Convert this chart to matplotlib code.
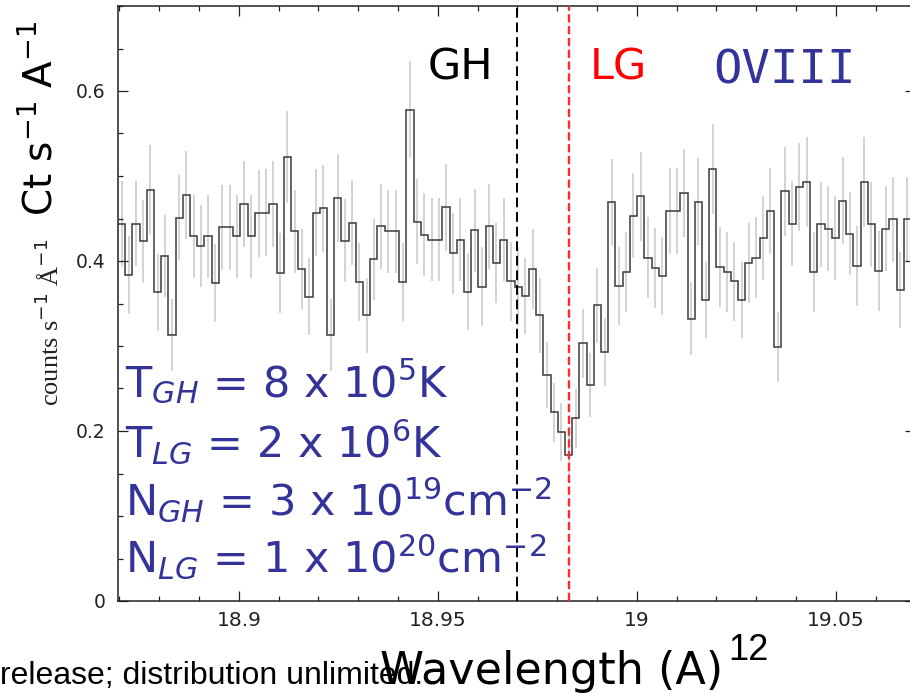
import numpy as np
import matplotlib
matplotlib.use('Agg')
import matplotlib.pyplot as plt
from matplotlib.ticker import MultipleLocator

# ---------------- data ----------------
wave_start = 18.8696      # left edge of first bin (Angstrom)
bin_width = 0.001812      # bin width (Angstrom)

counts = [
    0.444, 0.384, 0.444, 0.423, 0.484, 0.363, 0.406, 0.313, 0.451, 0.478,
    0.429, 0.418, 0.429, 0.374, 0.440, 0.440, 0.429, 0.467, 0.429, 0.456,
    0.457, 0.467, 0.386, 0.522, 0.435, 0.391, 0.358, 0.457, 0.462, 0.313,
    0.474, 0.424, 0.445, 0.375, 0.336, 0.402, 0.441, 0.435, 0.435, 0.375,
    0.578, 0.446, 0.431, 0.425, 0.425, 0.463, 0.409, 0.425, 0.364, 0.436,
    0.370, 0.441, 0.398, 0.425, 0.376, 0.370, 0.359, 0.391, 0.336, 0.266,
    0.222, 0.199, 0.172, 0.215, 0.303, 0.254, 0.348, 0.293, 0.469, 0.371,
    0.387, 0.453, 0.476, 0.404, 0.392, 0.382, 0.459, 0.459, 0.480, 0.332,
    0.470, 0.354, 0.508, 0.393, 0.387, 0.376, 0.354, 0.398, 0.404, 0.427,
    0.459, 0.299, 0.482, 0.444, 0.487, 0.493, 0.387, 0.443, 0.438, 0.427,
    0.471, 0.432, 0.394, 0.493, 0.443, 0.388, 0.438, 0.449, 0.366, 0.449,
    0.399,
]

errors = [
    0.050, 0.046, 0.050, 0.049, 0.052, 0.045, 0.048, 0.042, 0.050, 0.052,
    0.049, 0.048, 0.049, 0.046, 0.050, 0.050, 0.049, 0.051, 0.049, 0.051,
    0.051, 0.051, 0.047, 0.054, 0.049, 0.047, 0.045, 0.051, 0.051, 0.042,
    0.052, 0.049, 0.050, 0.046, 0.044, 0.048, 0.050, 0.049, 0.049, 0.046,
    0.057, 0.050, 0.049, 0.049, 0.049, 0.051, 0.048, 0.049, 0.045, 0.049,
    0.046, 0.050, 0.047, 0.049, 0.046, 0.046, 0.045, 0.047, 0.044, 0.039,
    0.035, 0.034, 0.031, 0.035, 0.041, 0.038, 0.044, 0.040, 0.051, 0.046,
    0.047, 0.050, 0.052, 0.048, 0.047, 0.046, 0.051, 0.051, 0.052, 0.043,
    0.051, 0.045, 0.053, 0.047, 0.047, 0.046, 0.045, 0.047, 0.048, 0.049,
    0.051, 0.041, 0.052, 0.050, 0.052, 0.053, 0.047, 0.050, 0.050, 0.049,
    0.051, 0.049, 0.047, 0.053, 0.050, 0.047, 0.050, 0.050, 0.045, 0.050,
    0.047,
]

xticks = [18.9, 18.95, 19.0, 19.05]
xtick_labels = ['18.9', '18.95', '19', '19.05']
yticks = [0, 0.2, 0.4, 0.6]
ytick_labels = ['0', '0.2', '0.4', '0.6']
xlim = (18.8697, 19.0699)
ylim = (0.0, 0.7)

gh_line = 18.9698
lg_line = 18.9830

param_lines = [
    r'T$_{GH}$ = 8 x 10$^{5}$K',
    r'T$_{LG}$ = 2 x 10$^{6}$K',
    r'N$_{GH}$ = 3 x 10$^{19}$cm$^{-2}$',
    r'N$_{LG}$ = 1 x 10$^{20}$cm$^{-2}$',
]

# ---------------- figure ----------------
W, H = 910, 693
fig = plt.figure(figsize=(W / 100, H / 100), dpi=100)


def fx(px):
    return px / W


def fy(py):
    return 1 - py / H


ax = fig.add_axes([fx(118.3), 92 / H, (915 - 118.3) / W, 595 / H])

counts_a = np.array(counts)
errors_a = np.array(errors)
edges = wave_start + bin_width * np.arange(len(counts_a) + 1)
centers = edges[:-1] + bin_width / 2

ax.vlines(centers, counts_a - errors_a, counts_a + errors_a,
          color='#c8c8c8', lw=1.1, zorder=1)
ax.stairs(counts_a, edges, color='#3a3a3a', lw=1.1, baseline=None, zorder=2)

ax.axvline(gh_line, color='black', lw=1.4, ls=(0, (5, 2.5)), zorder=3)
ax.axvline(lg_line, color='#ff2a2a', lw=1.7, ls=(0, (3.5, 1.5)), zorder=3)

ax.set_xlim(*xlim)
ax.set_ylim(*ylim)
ax.set_xticks(xticks)
ax.set_xticklabels(xtick_labels)
ax.set_yticks(yticks)
ax.set_yticklabels(ytick_labels)
ax.xaxis.set_minor_locator(MultipleLocator(0.01))
ax.yaxis.set_minor_locator(MultipleLocator(0.05))
ax.tick_params(which='both', direction='in', top=True, right=True,
               labelcolor='#222222', color='#222222')
ax.tick_params(axis='x', labelsize=14.5, pad=7)
ax.tick_params(axis='y', labelsize=13.5, pad=9)
ax.tick_params(which='major', length=7, width=0.9)
ax.tick_params(which='minor', length=3.6, width=0.9)
for s in ax.spines.values():
    s.set_linewidth(1.1)
    s.set_color('#222222')

# ---------------- texts ----------------
fig.text(fx(428), fy(80), 'GH', fontsize=31, color='black', va='baseline')
fig.text(fx(590), fy(80), 'LG', fontsize=31, color='red', va='baseline')
fig.text(fx(713), fy(83), 'OVIII', fontsize=34, color='#333399',
         family='DejaVu Sans Mono', va='baseline')

baselines = [397, 457, 515, 572]
for txt, b in zip(param_lines, baselines):
    fig.text(fx(125), fy(b), txt, fontsize=31, color='#333399', va='baseline')

fig.text(fx(40), fy(118), r'Ct s$^{-1}$ A$^{-1}$', rotation=90,
         ha='center', va='center', fontsize=28, color='black')
fig.text(fx(50), fy(322), r'counts s$^{-1}$ Å$^{-1}$', rotation=90,
         ha='center', va='center', fontsize=19, family='Liberation Serif',
         color='#222222')

fig.text(fx(0), fy(684), 'release; distribution unlimited.', fontsize=23,
         family='Liberation Sans', va='baseline', color='black')
fig.text(fx(380), fy(684), 'Wavelength (A)', fontsize=32, va='baseline',
         color='black')
fig.text(fx(728), fy(660), '12', fontsize=26, family='Liberation Sans',
         va='baseline', color='black')

fig.savefig('out.png', dpi=100)
